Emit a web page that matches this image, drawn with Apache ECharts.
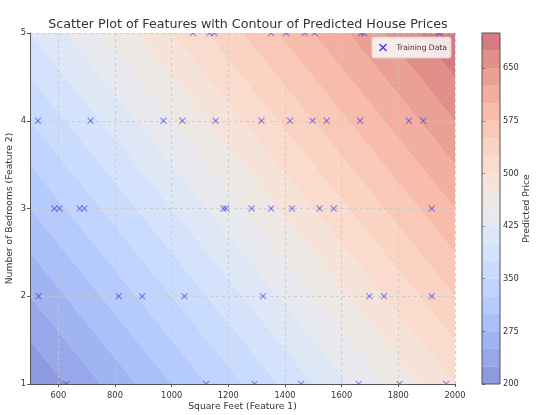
<html>

<head>
    <script src="https://cdn.jsdelivr.net/npm/echarts@6.0.0/dist/echarts.min.js"></script>

    <style>
        body {
            margin: 0
        }
        #chart {
            width: 540px;
            height: 415px;
        }
    </style>
</head>

<body>
    <div id="chart"></div>

    <script>
        // fitted model: price = intercept + sqftCoef * sqft + bedCoef * bedrooms
        const intercept = 50;
        const sqftCoef = 0.2;
        const bedCoef = 50;

        const sqftRange = [500, 2000];
        const bedRange = [1, 5];
        const sqftTicks = [600, 800, 1000, 1200, 1400, 1600, 1800, 2000];
        const priceLevels = [200, 225, 250, 275, 300, 325, 350, 375, 400, 425, 450,
            475, 500, 525, 550, 575, 600, 625, 650, 675, 700];
        const colorbarTicks = [200, 275, 350, 425, 500, 575, 650];

        // training points
        const trainSqft = [
            1075, 1133, 1150, 1351, 1404, 1469, 1504, 1668, 1680, 1945,
            528, 714, 971, 1038, 1155, 1317, 1418, 1497, 1547, 1665, 1837, 1888,
            586, 604, 675, 692, 1182, 1192, 1282, 1351, 1425, 1522, 1572, 1918,
            530, 813, 896, 1045, 1322, 1698, 1749, 1918,
            628, 1122, 1292, 1457, 1660, 1804, 1969
        ];
        const trainBedrooms = [
            5, 5, 5, 5, 5, 5, 5, 5, 5, 5,
            4, 4, 4, 4, 4, 4, 4, 4, 4, 4, 4, 4,
            3, 3, 3, 3, 3, 3, 3, 3, 3, 3, 3, 3,
            2, 2, 2, 2, 2, 2, 2, 2,
            1, 1, 1, 1, 1, 1, 1
        ];

        // matplotlib coolwarm, sampled
        const coolwarm = [
            [59, 76, 192], [68, 90, 204], [77, 104, 215], [87, 117, 225], [98, 130, 234],
            [108, 142, 241], [119, 154, 247], [130, 165, 251], [141, 176, 254], [152, 185, 255],
            [163, 194, 255], [174, 201, 253], [184, 208, 249], [194, 213, 244], [204, 217, 238],
            [213, 219, 230], [221, 221, 221], [229, 216, 209], [236, 211, 197], [241, 204, 185],
            [245, 196, 173], [247, 187, 160], [247, 177, 148], [247, 166, 135], [244, 154, 123],
            [241, 141, 111], [236, 127, 99], [229, 112, 88], [222, 96, 77], [213, 80, 66],
            [203, 62, 56], [192, 40, 47], [180, 4, 38]
        ];

        const cmap = (t) => {
            const s = Math.max(0, Math.min(1, t)) * (coolwarm.length - 1);
            const i = Math.min(Math.floor(s), coolwarm.length - 2);
            const f = s - i;
            const c = coolwarm[i].map((v, k) => Math.round(v + (coolwarm[i + 1][k] - v) * f));
            return `rgb(${c[0]},${c[1]},${c[2]})`;
        };

        const bandColor = (i) => {
            const lo = priceLevels[0], hi = priceLevels[priceLevels.length - 1];
            const mid = (priceLevels[i] + priceLevels[i + 1]) / 2;
            return cmap((mid - lo) / (hi - lo));
        };

        const price = (p) => intercept + sqftCoef * p[0] + bedCoef * p[1];

        // keep the part of poly where g >= 0
        const clip = (poly, g) => {
            const out = [];
            for (let i = 0; i < poly.length; i++) {
                const a = poly[i], b = poly[(i + 1) % poly.length];
                const ga = g(a), gb = g(b);
                if (ga >= 0) out.push(a);
                if ((ga >= 0) !== (gb >= 0)) {
                    const t = ga / (ga - gb);
                    out.push([a[0] + t * (b[0] - a[0]), a[1] + t * (b[1] - a[1])]);
                }
            }
            return out;
        };

        const bandPolygon = (lo, hi) => {
            let poly = [[sqftRange[0], bedRange[0]], [sqftRange[1], bedRange[0]],
                [sqftRange[1], bedRange[1]], [sqftRange[0], bedRange[1]]];
            poly = clip(poly, p => price(p) - lo);
            poly = clip(poly, p => hi - price(p));
            return poly;
        };

        const bands = priceLevels.slice(0, -1).map((v, i) => [i]);
        const points = trainSqft.map((x, i) => [x, trainBedrooms[i]]);

        const xMark = 'path://M0,0L10,10M10,0L0,10';
        const markColor = 'rgba(40,40,255,0.45)';
        const textColor = '#333';

        const chartDom = document.getElementById('chart');
        const myChart = echarts.init(chartDom);

        const option = {
            animation: false,
            backgroundColor: '#fff',
            textStyle: { fontFamily: 'DejaVu Sans' },
            title: {
                text: 'Scatter Plot of Features with Contour of Predicted House Prices',
                left: 243,
                textAlign: 'center',
                top: 7,
                textStyle: { fontSize: 12.7, fontWeight: 'normal', color: textColor, fontFamily: 'DejaVu Sans' }
            },
            legend: {
                right: 89,
                top: 37,
                orient: 'vertical',
                data: [{ name: 'Training Data', icon: xMark, itemStyle: { borderColor: '#3333ff', borderWidth: 1.3, color: 'rgba(0,0,0,0)' } }],
                itemWidth: 7,
                itemHeight: 7,
                padding: [3, 4, 3, 7],
                backgroundColor: 'rgba(255,255,255,0.8)',
                borderColor: '#ccc',
                borderWidth: 1,
                borderRadius: 2,
                textStyle: { fontSize: 7.6, color: textColor, padding: [0, 0, 0, 5] }
            },
            grid: [
                { left: 30, top: 33, width: 425, height: 351, outerBoundsMode: 'none', containLabel: false },
                { left: 482, top: 33, width: 18, height: 351, show: true, z: 3,
                    outerBoundsMode: 'none', containLabel: false,
                    backgroundColor: 'rgba(0,0,0,0)', borderColor: '#555', borderWidth: 1 }
            ],
            xAxis: [
                {
                    type: 'value',
                    gridIndex: 0,
                    min: sqftRange[0],
                    max: sqftRange[1],
                    name: 'Square Feet (Feature 1)',
                    nameLocation: 'middle',
                    nameGap: 14,
                    nameMoveOverlap: false,
                    nameTextStyle: { fontSize: 9.2, color: textColor },
                    axisLine: { lineStyle: { color: '#555', width: 1 } },
                    axisTick: { customValues: sqftTicks, length: 3, lineStyle: { color: '#555' } },
                    axisLabel: { customValues: sqftTicks, fontSize: 8.3, color: textColor, margin: 4,
                        formatter: v => String(v) },
                    splitLine: { show: true, lineStyle: { color: '#c8c8c8', type: [3, 3], width: 0.8 } }
                },
                { type: 'value', gridIndex: 1, min: 0, max: 1, show: false }
            ],
            yAxis: [
                {
                    type: 'value',
                    gridIndex: 0,
                    min: bedRange[0],
                    max: bedRange[1],
                    interval: 1,
                    name: 'Number of Bedrooms (Feature 2)',
                    nameLocation: 'middle',
                    nameGap: 11,
                    nameMoveOverlap: false,
                    nameTextStyle: { fontSize: 9.2, color: textColor },
                    axisLine: { show: true, lineStyle: { color: '#555', width: 1 } },
                    axisTick: { show: true, length: 3, lineStyle: { color: '#555' } },
                    axisLabel: { fontSize: 8.3, color: textColor, margin: 4 },
                    splitLine: { show: true, lineStyle: { color: '#c8c8c8', type: [3, 3], width: 0.8 } }
                },
                {
                    type: 'value',
                    gridIndex: 1,
                    min: priceLevels[0],
                    max: priceLevels[priceLevels.length - 1],
                    position: 'right',
                    name: 'Predicted Price',
                    nameLocation: 'middle',
                    nameGap: 18,
                    nameRotate: 90,
                    nameMoveOverlap: false,
                    nameTextStyle: { fontSize: 9.2, color: textColor },
                    axisLine: { show: false },
                    axisTick: { show: true, customValues: colorbarTicks, length: 3, lineStyle: { color: '#555' } },
                    axisLabel: { customValues: colorbarTicks, fontSize: 8.3, color: textColor, margin: 3 },
                    splitLine: { show: false }
                }
            ],
            series: [
                {
                    type: 'custom',
                    name: 'contour',
                    xAxisIndex: 0,
                    yAxisIndex: 0,
                    z: -1,
                    silent: true,
                    data: bands,
                    encode: { x: [], y: [] },
                    renderItem: (params, api) => {
                        const i = api.value(0);
                        const poly = bandPolygon(priceLevels[i], priceLevels[i + 1]);
                        if (poly.length < 3) return null;
                        return {
                            type: 'polygon',
                            shape: { points: poly.map(p => api.coord(p)) },
                            style: { fill: bandColor(i), opacity: 0.6 }
                        };
                    }
                },
                {
                    type: 'custom',
                    name: 'colorbar',
                    xAxisIndex: 1,
                    yAxisIndex: 1,
                    silent: true,
                    data: bands,
                    encode: { x: [], y: [] },
                    renderItem: (params, api) => {
                        const i = api.value(0);
                        const a = api.coord([0, priceLevels[i + 1]]);
                        const b = api.coord([1, priceLevels[i]]);
                        return {
                            type: 'rect',
                            shape: { x: a[0], y: a[1], width: b[0] - a[0], height: b[1] - a[1] },
                            style: { fill: bandColor(i), opacity: 0.6 }
                        };
                    }
                },
                {
                    type: 'custom',
                    name: 'Training Data',
                    xAxisIndex: 0,
                    yAxisIndex: 0,
                    data: points,
                    clip: true,
                    itemStyle: { color: '#3333ff' },
                    renderItem: (params, api) => {
                        const c = api.coord([api.value(0), api.value(1)]);
                        const r = 3;
                        const style = { stroke: markColor, lineWidth: 1.2 };
                        return {
                            type: 'group',
                            children: [
                                { type: 'line', shape: { x1: c[0] - r, y1: c[1] - r, x2: c[0] + r, y2: c[1] + r }, style },
                                { type: 'line', shape: { x1: c[0] - r, y1: c[1] + r, x2: c[0] + r, y2: c[1] - r }, style }
                            ]
                        };
                    }
                }
            ]
        };

        myChart.setOption(option);
    </script>
</body>

</html>
